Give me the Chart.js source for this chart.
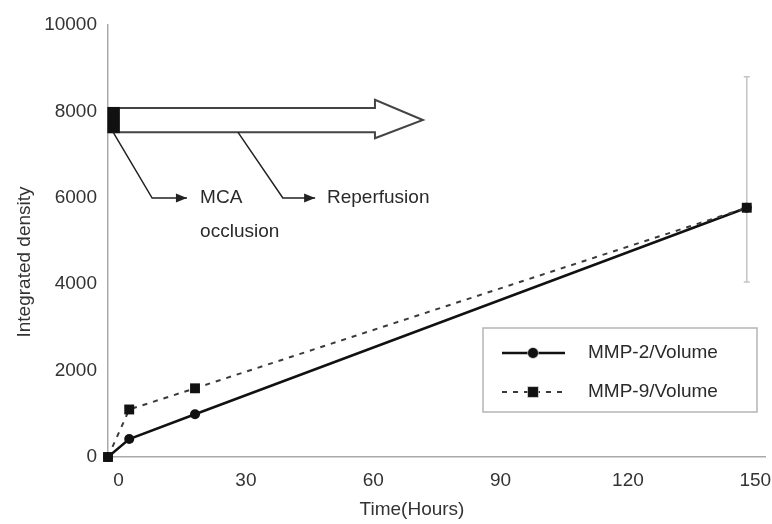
<!DOCTYPE html>
<html>
<head>
<meta charset="utf-8">
<script src="https://cdn.jsdelivr.net/npm/chart.js@4.4.0/dist/chart.umd.min.js"></script>
<style>
    html, body { margin: 0; padding: 0; background: #fff; }
    #wrap { position: relative; width: 772px; height: 524px; }
</style>
</head>
<body>
<div id="wrap"><canvas id="chart"></canvas></div>
<script>
// Values
const timeHours = [-2.5, 2.5, 18, 148];
const mmp2Volume = [0, 415, 990, 5770];
const mmp9Volume = [0, 1100, 1590, 5770];
const mmp9ErrLow = [null, null, null, 4050];
const mmp9ErrHigh = [null, null, null, 8800];
const xTickValues = [0, 30, 60, 90, 120, 150];
const yTickValues = [0, 2000, 4000, 6000, 8000, 10000];
const seriesLabels = ['MMP-2/Volume', 'MMP-9/Volume'];
const xTitle = 'Time(Hours)';
const yTitle = 'Integrated density';
const noteLabels = ['MCA', 'occlusion', 'Reperfusion'];

const fontFamily = "'Liberation Sans', Arial, sans-serif";
const textColor = '#2a2a2a';

const px = (chart, v) => chart.scales.x.getPixelForValue(v);
const py = (chart, v) => chart.scales.y.getPixelForValue(v);

function arrowHead(ctx, x, y, len, half) {
    ctx.beginPath();
    ctx.moveTo(x, y);
    ctx.lineTo(x - len, y - half);
    ctx.lineTo(x - len, y + half);
    ctx.closePath();
    ctx.fill();
}

// Error bars, timeline arrow, notes, legend and axis titles
const extrasPlugin = {
    id: 'extras',
    beforeDatasetsDraw(chart) {
        const ctx = chart.ctx;
        ctx.save();
        ctx.strokeStyle = '#c4c4c4';
        ctx.lineWidth = 1.5;
        timeHours.forEach((t, i) => {
            if (mmp9ErrLow[i] == null) return;
            const x = px(chart, t);
            const y1 = py(chart, mmp9ErrLow[i]);
            const y2 = py(chart, mmp9ErrHigh[i]);
            ctx.beginPath();
            ctx.moveTo(x, y1); ctx.lineTo(x, y2);
            ctx.moveTo(x - 3, y1); ctx.lineTo(x + 3, y1);
            ctx.moveTo(x - 3, y2); ctx.lineTo(x + 3, y2);
            ctx.stroke();
        });
        ctx.restore();
    },
    afterDraw(chart) {
        const ctx = chart.ctx;
        ctx.save();

        // block arrow (timeline)
        const x0 = px(chart, -2.5), xRect = px(chart, 0.3);
        const xBody = px(chart, 60.4), xTip = px(chart, 71.7);
        const yBT = py(chart, 8080), yBB = py(chart, 7520);
        const yHT = py(chart, 8270), yHB = py(chart, 7380), yMid = py(chart, 7800);
        ctx.beginPath();
        ctx.moveTo(x0, yBT);
        ctx.lineTo(xBody, yBT);
        ctx.lineTo(xBody, yHT);
        ctx.lineTo(xTip, yMid);
        ctx.lineTo(xBody, yHB);
        ctx.lineTo(xBody, yBB);
        ctx.lineTo(x0, yBB);
        ctx.closePath();
        ctx.fillStyle = '#fff';
        ctx.fill();
        ctx.strokeStyle = '#444';
        ctx.lineWidth = 2;
        ctx.stroke();
        ctx.fillStyle = '#111';
        ctx.fillRect(x0, yBT - 1, xRect - x0, yBB - yBT + 2);

        // leader lines
        ctx.strokeStyle = '#222';
        ctx.fillStyle = '#222';
        ctx.lineWidth = 1.5;
        const yKnee = py(chart, 5995);
        [[-1.3, 7.9, 16.1], [28.1, 38.7, 46.3]].forEach(([s, k, e]) => {
            ctx.beginPath();
            ctx.moveTo(px(chart, s), yBB);
            ctx.lineTo(px(chart, k), yKnee);
            ctx.lineTo(px(chart, e), yKnee);
            ctx.stroke();
            arrowHead(ctx, px(chart, e), yKnee, 11, 4.5);
        });

        ctx.font = '19px ' + fontFamily;
        ctx.fillStyle = textColor;
        ctx.textAlign = 'left';
        ctx.textBaseline = 'middle';
        ctx.fillText(noteLabels[0], px(chart, 19.2), yKnee);
        ctx.fillText(noteLabels[1], px(chart, 19.2), py(chart, 5208));
        ctx.fillText(noteLabels[2], px(chart, 49.1), yKnee);

        // legend box
        ctx.strokeStyle = '#b5b5b5';
        ctx.lineWidth = 1.5;
        ctx.strokeRect(483, 328, 274, 84);
        const rows = [353, 392];
        chart.data.datasets.forEach((ds, i) => {
            const y = rows[i];
            ctx.save();
            ctx.strokeStyle = ds.borderColor;
            ctx.lineWidth = ds.borderWidth;
            ctx.setLineDash(ds.borderDash || []);
            ctx.beginPath();
            ctx.moveTo(502, y);
            ctx.lineTo(565, y);
            ctx.stroke();
            ctx.restore();
            Chart.helpers.drawPoint(ctx, {
                pointStyle: ds.pointStyle,
                radius: ds.pointRadius,
                borderWidth: 1
            }, 533, y);
            ctx.fillStyle = '#111';
            ctx.fill();
            ctx.fillStyle = textColor;
            ctx.fillText(ds.label, 588, y);
        });

        // axis titles
        ctx.fillStyle = '#333';
        ctx.textAlign = 'center';
        ctx.fillText(xTitle, 412, 510);
        ctx.translate(25, 262);
        ctx.rotate(-Math.PI / 2);
        ctx.fillText(yTitle, 0, 0);

        ctx.restore();
    }
};

const toPoints = vals => timeHours.map((t, i) => ({ x: t, y: vals[i] }));

new Chart(document.getElementById('chart'), {
    type: 'line',
    data: {
        datasets: [
            {
                label: seriesLabels[0],
                data: toPoints(mmp2Volume),
                borderColor: '#111',
                backgroundColor: '#111',
                borderWidth: 2.5,
                pointStyle: 'circle',
                pointRadius: 5,
                pointBorderWidth: 0,
                tension: 0,
                clip: false,
                order: 1
            },
            {
                label: seriesLabels[1],
                data: toPoints(mmp9Volume),
                borderColor: '#3a3a3a',
                backgroundColor: '#111',
                borderWidth: 2,
                borderDash: [5, 6],
                pointStyle: 'rect',
                pointRadius: 7,
                pointBorderWidth: 0,
                tension: 0,
                clip: false,
                order: 0
            }
        ]
    },
    options: {
        responsive: true,
        maintainAspectRatio: false,
        animation: false,
        layout: { padding: { top: 25, right: 7, left: 0, bottom: 0 } },
        plugins: {
            legend: { display: false },
            tooltip: { enabled: false }
        },
        scales: {
            x: {
                type: 'linear',
                min: -2.5,
                max: 152.3,
                afterBuildTicks: axis => { axis.ticks = xTickValues.map(v => ({ value: v })); },
                afterFit: scale => {
                    scale.height = 67;
                    scale.paddingLeft = 0;
                    scale.paddingRight = 0;
                },
                ticks: {
                    color: '#333',
                    padding: 12,
                    font: { family: fontFamily, size: 19 }
                },
                grid: { display: true, drawOnChartArea: false, drawTicks: false },
                border: { color: '#aaa', width: 1.5 }
            },
            y: {
                type: 'linear',
                min: 0,
                max: 10000,
                afterBuildTicks: axis => { axis.ticks = yTickValues.map(v => ({ value: v })); },
                afterFit: scale => { scale.width = 108; },
                ticks: {
                    color: '#333',
                    padding: 11,
                    callback: v => String(v),
                    font: { family: fontFamily, size: 19 }
                },
                grid: { display: true, drawOnChartArea: false, drawTicks: false },
                border: { color: '#aaa', width: 1.5 }
            }
        }
    },
    plugins: [extrasPlugin]
});
</script>
</body>
</html>
